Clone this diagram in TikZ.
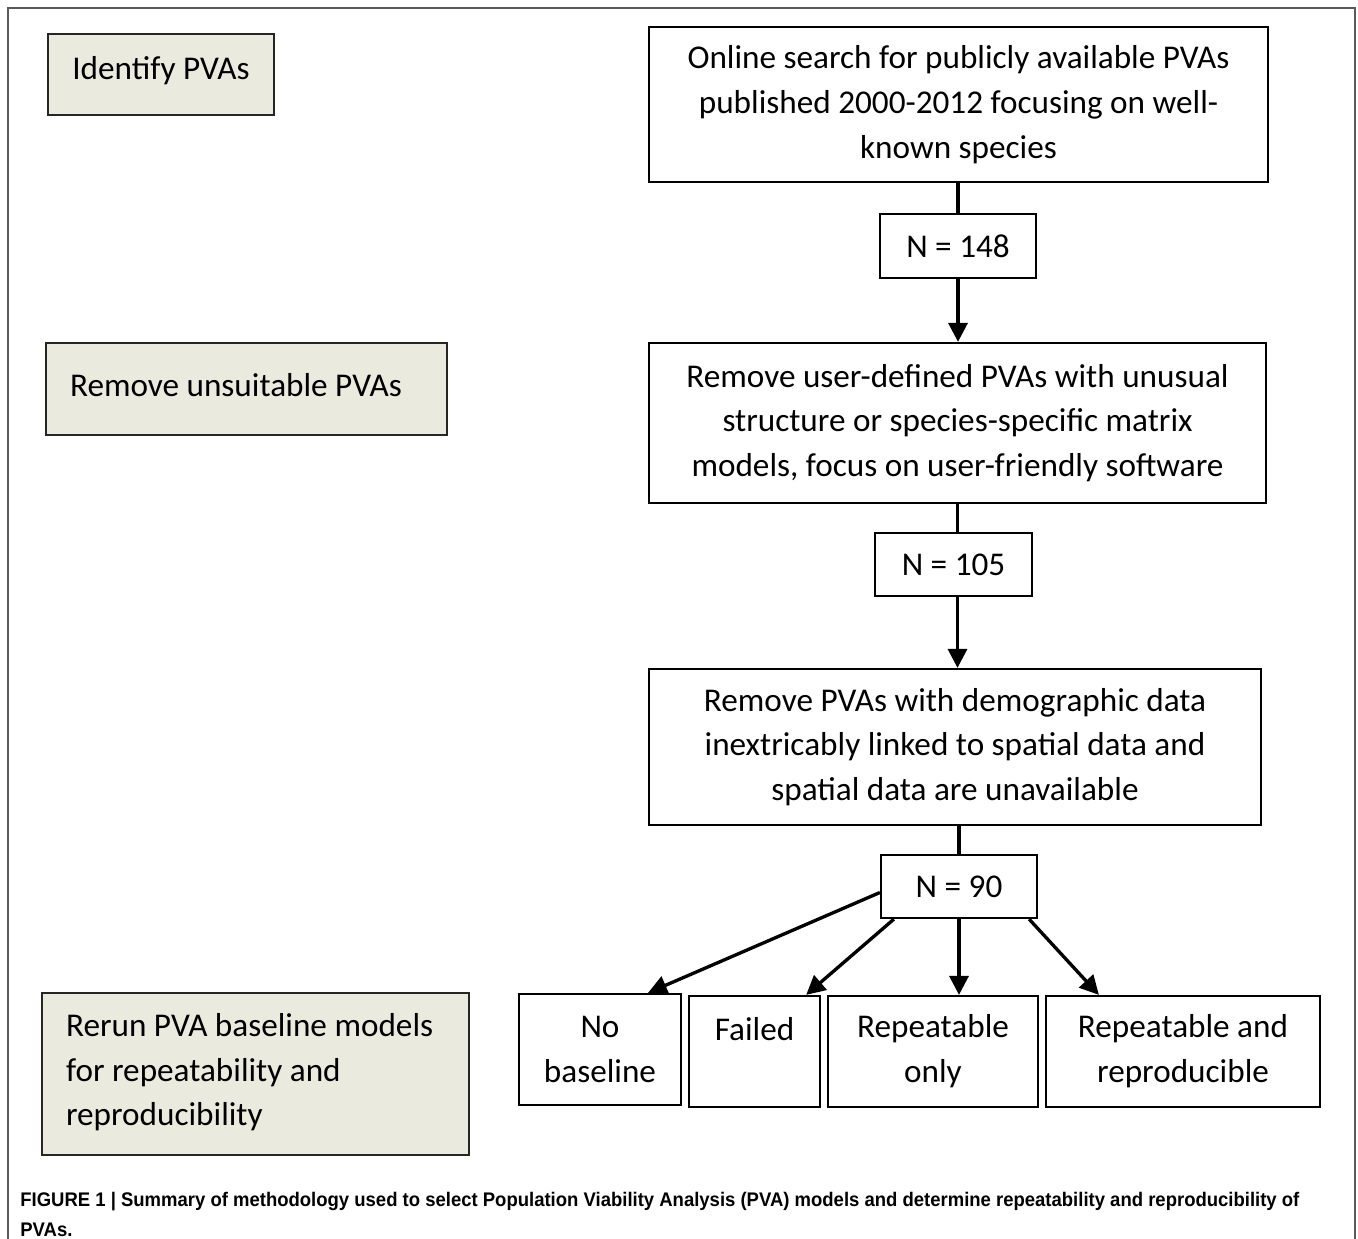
\documentclass[tikz,border=0pt]{standalone}
\usepackage{fontspec}
\setmainfont{Carlito}
\newfontfamily\capfont[FakeStretch=0.94]{Liberation Sans}
\usetikzlibrary{arrows.meta,calc}
\definecolor{beige}{RGB}{235,234,222}
\definecolor{framegray}{RGB}{90,90,90}
\begin{document}
\begin{tikzpicture}[x=0.02cm,y=-0.02cm,
  every node/.style={font=\fontsize{18.9}{25.5}\selectfont, inner sep=0pt},
  flowbox/.style={draw=black, line width=1.3pt, fill=white, align=center},
  stagebox/.style={draw=black!85, line width=1.6pt, fill=beige},
  conn/.style={line width=1.9pt},
  arr/.style={conn, -{Triangle[length=0.38cm,width=0.38cm]}}]
\useasboundingbox (0,0) rectangle (1358,1238);
\draw[framegray, line width=1pt] (8,1245) -- (8,8) -- (1355,8) -- (1355,1245);

% stage boxes (left)
\node[stagebox, minimum width=4.52cm, minimum height=1.62cm, align=center] (idb) at (161,74.5) {Identify PVAs\rule[-8pt]{0pt}{1pt}};
\node[stagebox, minimum width=8.02cm, minimum height=1.84cm, text width=7.06cm, inner xsep=0.48cm, align=flush left] (rmb) at (246.5,389) {Remove unsuitable PVAs\rule[-5pt]{0pt}{1pt}};
\node[stagebox, minimum width=8.54cm, minimum height=3.24cm, text width=7.58cm, inner xsep=0.48cm, align=flush left] (rrb) at (255.5,1074) {Rerun PVA baseline models\\for repeatability and\\reproducibility\rule[-5pt]{0pt}{1pt}};

% main flow
\node[flowbox, minimum width=12.38cm, minimum height=3.10cm] (b1) at (958.5,104.5) {Online search for publicly available PVAs\\published 2000-2012 focusing on well-\\known species};
\node[flowbox, minimum width=3.12cm, minimum height=1.28cm] (n1) at (958,246) {N = 148};
\node[flowbox, minimum width=12.34cm, minimum height=3.20cm] (b2) at (957.5,423) {Remove user-defined PVAs with unusual\\structure or species-specific matrix\\models, focus on user-friendly software};
\node[flowbox, minimum width=3.14cm, minimum height=1.26cm] (n2) at (953.5,564.5) {N = 105};
\node[flowbox, minimum width=12.24cm, minimum height=3.12cm] (b3) at (955,747) {Remove PVAs with demographic data\\inextricably linked to spatial data and\\spatial data are unavailable};
\node[flowbox, minimum width=3.12cm, minimum height=1.26cm] (n3) at (959,886.5) {N = 90};

% outcomes
\node[flowbox, minimum width=3.24cm, minimum height=2.22cm] (o1) at (600,1049.5) {No\\baseline};
\node[flowbox, minimum width=2.62cm, minimum height=2.22cm] (o2) at (754.5,1051.5) {Failed\\\mbox{}};
\node[flowbox, minimum width=4.20cm, minimum height=2.22cm] (o3) at (933,1051.5) {Repeatable\\only};
\node[flowbox, minimum width=5.48cm, minimum height=2.22cm] (o4) at (1183,1051.5) {Repeatable and\\reproducible};

% connectors
\draw[conn] (n1.north |- b1.south) -- (n1.north);
\draw[arr] (n1.south) -- (n1.south |- b2.north);
\draw[conn] ($(n2.north |- b2.south)+(4,0)$) -- ($(n2.north)+(4,0)$);
\draw[arr] ($(n2.south)+(4,0)$) -- ($(n2.south |- b3.north)+(4,0)$);
\draw[conn] (n3.north |- b3.south) -- (n3.north);
\draw[arr] ($(n3.west)+(0,6)$) -- ($(o1.north)+(48,0)$);
\draw[arr] ($(n3.south west)+(14,0)$) -- ($(o2.north east)+(-15,0)$);
\draw[arr] (n3.south) -- (n3.south |- o3.north);
\draw[arr] ($(n3.south east)+(-9,0)$) -- ($(o4.north west)+(54,0)$);

% caption
\node[anchor=north west, align=left, font=\capfont\bfseries\fontsize{11.2}{17}\selectfont] (cap) at (20,1192) {FIGURE 1 | Summary of methodology used to select Population Viability Analysis (PVA) models and determine repeatability and reproducibility of\\PVAs.};
\end{tikzpicture}
\end{document}
